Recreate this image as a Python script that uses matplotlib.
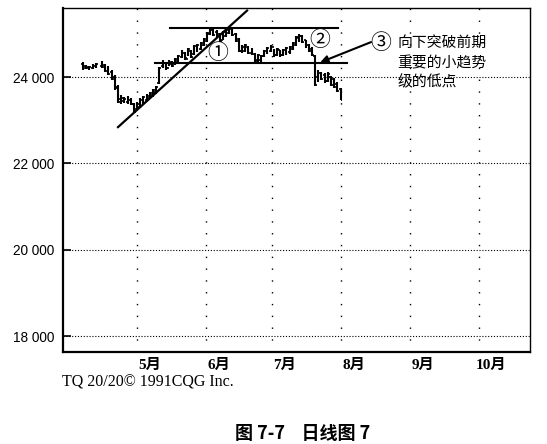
import matplotlib
matplotlib.use("Agg")
import matplotlib.pyplot as plt

# ---- data (trading-day index, 0 = start of May) ----
days = [-17, -16, -15, -14, -13, -11, -10, -9, -8, -7, -6, -5, -4, -3, -2, -1,
        0, 1, 2, 3, 4, 5, 6, 7, 8, 9, 10, 11, 12, 13, 14, 15, 16, 17, 18, 19,
        20, 21, 22, 23, 24, 25, 26, 27, 28, 29, 30, 31, 32, 33, 34, 35, 36, 37,
        38, 39, 40, 41, 42, 43, 44, 45, 46, 47, 48, 49, 50, 51, 52, 53, 54, 55,
        56, 57, 58, 59, 60, 61, 62, 63, 64]
highs = [24350, 24280, 24260, 24300, 24330, 24370, 24300, 24260, 24160, 24050, 23810, 23580,
         23540, 23560, 23510, 23400, 23420, 23510, 23560, 23600, 23650, 23720, 23790, 24230,
         24400, 24350, 24400, 24370, 24440, 24510, 24630, 24580, 24670, 24630, 24740, 24770,
         24810, 24910, 25050, 25160, 25140, 25090, 25020, 25070, 25120, 25160, 25120, 25020,
         24910, 24740, 24770, 24720, 24670, 24560, 24540, 24510, 24630, 24700, 24740, 24650,
         24670, 24630, 24650, 24700, 24720, 24810, 24950, 25000, 24980, 24860, 24770, 24700,
         24510, 24160, 24120, 24090, 24120, 24020, 23980, 23880, 23740]
lows = [24160, 24190, 24160, 24190, 24210, 24210, 24120, 24050, 23930, 23700, 23400, 23370,
        23400, 23370, 23350, 23160, 23230, 23280, 23370, 23440, 23490, 23540, 23610, 23840,
        24210, 24160, 24260, 24230, 24280, 24350, 24440, 24400, 24490, 24440, 24510, 24580,
        24630, 24720, 24810, 24980, 24950, 24930, 24810, 24860, 24930, 25000, 24950, 24810,
        24580, 24560, 24580, 24540, 24510, 24350, 24330, 24350, 24470, 24540, 24580, 24470,
        24490, 24470, 24490, 24510, 24540, 24630, 24720, 24810, 24790, 24670, 24580, 24490,
        23790, 23880, 23930, 23860, 23880, 23790, 23740, 23650, 23470]
opens = [24300, 24250, 24200, 24220, 24250, 24250, 24280, 24200, 24120, 24000, 23780, 23500,
         23450, 23420, 23480, 23380, 23260, 23300, 23400, 23480, 23520, 23580, 23650, 23860,
         24250, 24320, 24200, 24300, 24300, 24380, 24460, 24560, 24420, 24600, 24540, 24620,
         24650, 24750, 24840, 25000, 25100, 25050, 25000, 24850, 24950, 25020, 25100, 25000,
         24880, 24600, 24600, 24700, 24550, 24540, 24400, 24400, 24480, 24580, 24600, 24700,
         24520, 24620, 24500, 24550, 24580, 24650, 24750, 24900, 24950, 24850, 24750, 24650,
         24480, 24000, 24050, 24050, 23900, 24000, 23950, 23850, 23720]
closes = [24220, 24230, 24240, 24280, 24300, 24230, 24140, 24080, 23960, 23740, 23420, 23520,
          23500, 23400, 23380, 23200, 23380, 23480, 23530, 23570, 23620, 23700, 23760, 24200,
          24330, 24200, 24360, 24260, 24420, 24480, 24600, 24430, 24640, 24470, 24720, 24740,
          24790, 24880, 25020, 25120, 24980, 24960, 24840, 25040, 25100, 25120, 24980, 24830,
          24600, 24700, 24740, 24560, 24650, 24380, 24500, 24480, 24600, 24680, 24600, 24500,
          24640, 24500, 24620, 24680, 24700, 24800, 24920, 24960, 24820, 24690, 24600, 24520,
          23820, 24100, 23960, 23900, 24080, 23820, 23780, 23680, 23480]

month_starts = [0, 21.7, 42.5, 64.2, 85.9, 107.5]
month_labels = ["5月", "6月", "7月", "8月", "9月", "10月"]
y_ticks = [18000, 20000, 22000, 24000]
y_labels = ["18 000", "20 000", "22 000", "24 000"]

trend_x = [-6.0, 34.6]
trend_y = [22840, 25540]
resist_level, resist_x = 25135, [10.4, 63.2]
support_level, support_x = 24324, [5.7, 66.0]

annot_text = ["向下突破前期", "重要的小趋势", "级的低点"]

# ---- figure ----
fig = plt.figure(figsize=(5.47, 4.44), dpi=100)
ax = fig.add_axes([63/547, 1-352/444, (530-63)/547, (352-8)/444])
ax.set_xlim(-23.3, 123.6)
ax.set_ylim(17630, 25600)

# grid
for yt in y_ticks:
    ax.axhline(yt, color="black", lw=0.8, ls=(0, (1, 1.6)), zorder=1)
for ms in month_starts:
    ax.axvline(ms, color="black", lw=1.0, ls=(0, (1, 7.5)), zorder=1)

# OHLC bars
tw = 0.6
ax.vlines(days, lows, highs, color="black", lw=1.5, zorder=3)
ax.hlines(opens, [d - tw for d in days], days, color="black", lw=1.2, zorder=3)
ax.hlines(closes, days, [d + tw for d in days], color="black", lw=1.2, zorder=3)

# trend lines
ax.plot(trend_x, trend_y, color="black", lw=1.6, zorder=4)
ax.plot(resist_x, [resist_level]*2, color="black", lw=1.5, zorder=4)
ax.plot(support_x, [support_level]*2, color="black", lw=1.5, zorder=4)

cjk = ["Noto Sans CJK SC", "DejaVu Sans"]
ax.text(25.5, 24560, "①", fontsize=15, family=cjk, ha="center", va="center", zorder=5)
ax.text(57.5, 24860, "②", fontsize=15, family=cjk, ha="center", va="center", zorder=5)
ax.text(76.7, 24790, "③", fontsize=15, family=cjk, ha="center", va="center", zorder=5)
ax.annotate("", xy=(57.6, 24340), xytext=(73.6, 24810),
            arrowprops=dict(arrowstyle="-|>", color="black", lw=1.5,
                            mutation_scale=11, shrinkA=0, shrinkB=0), zorder=5)
for line, yv in zip(annot_text, [24790, 24325, 23885]):
    ax.text(81.9, yv, line, fontsize=10.7, family=cjk, ha="left", va="center", zorder=5)

# axes styling
ax.set_yticks(y_ticks)
ax.set_yticklabels(y_labels, family="Liberation Sans", fontsize=9.8)
ax.tick_params(axis="y", direction="in", length=6, width=1.2, pad=6)
ax.set_xticks([m + 4 for m in month_starts])
ax.set_xticklabels(month_labels, family=["Liberation Serif", "Noto Sans CJK SC"],
                   fontsize=11, fontweight="bold")
ax.tick_params(axis="x", length=0, pad=5)
for s in ["top", "right"]:
    ax.spines[s].set_linewidth(1.0)
for s in ["left", "bottom"]:
    ax.spines[s].set_linewidth(1.6)

fig.text(62/547, 1-382/444, "TQ 20/20© 1991CQG Inc.", family="Liberation Serif",
         fontsize=11.5, ha="left", va="center")
fig.text(303/547, 1-433/444, "图 7-7    日线图 7", family=["Noto Sans CJK SC", "DejaVu Sans"],
         fontsize=13, fontweight="bold", ha="center", va="center")

fig.savefig("out.png", dpi=100)
